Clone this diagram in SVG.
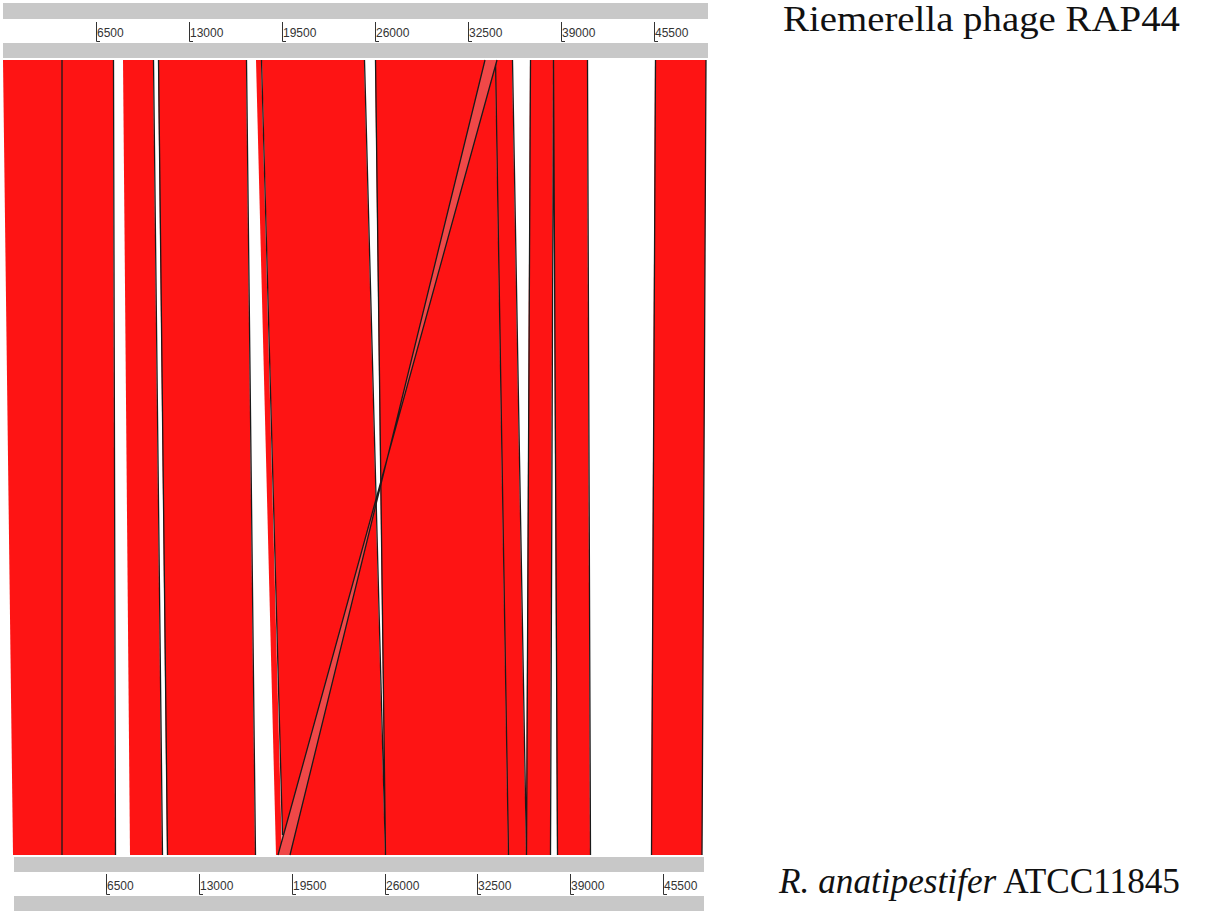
<svg xmlns="http://www.w3.org/2000/svg" width="1210" height="915" viewBox="0 0 1210 915">
<style>
.bar{fill:#c8c8c8}
.blk{fill:#fe1414}
.inv{fill:#f04848}
.edge{stroke:#1a1a1a;stroke-width:1.3;fill:none}
.tick{stroke:#333;stroke-width:1;fill:none}
.tl{font-family:"Liberation Sans",Arial,sans-serif;font-size:12px;fill:#333}
.lab{font-family:"Liberation Serif","Times New Roman",serif;font-size:35px;fill:#111}
</style>
<rect width="1210" height="915" fill="#fff"/>
<g id="top-axis">
<rect class="bar" x="3" y="3" width="705" height="16"/>
<rect class="bar" x="3" y="43" width="705" height="15"/>
<path class="tick" d="M96.5 22V41.5H100M189.5 22V41.5H193M282.5 22V41.5H286M375.5 22V41.5H379M468.5 22V41.5H472M561.5 22V41.5H565M654.5 22V41.5H658"/>
<text class="tl" x="97" y="37">6500</text>
<text class="tl" x="190" y="37">13000</text>
<text class="tl" x="283" y="37">19500</text>
<text class="tl" x="376" y="37">26000</text>
<text class="tl" x="469" y="37">32500</text>
<text class="tl" x="562" y="37">39000</text>
<text class="tl" x="655" y="37">45500</text>
</g>
<g id="bottom-axis">
<rect class="bar" x="14" y="857" width="690" height="15"/>
<rect class="bar" x="14" y="896" width="690" height="15"/>
<path class="tick" d="M106.5 874V894.5H110M199.5 874V894.5H203M292.5 874V894.5H296M385.5 874V894.5H389M477.5 874V894.5H481M570.5 874V894.5H574M663.5 874V894.5H667"/>
<text class="tl" x="107" y="890">6500</text>
<text class="tl" x="200" y="890">13000</text>
<text class="tl" x="293" y="890">19500</text>
<text class="tl" x="386" y="890">26000</text>
<text class="tl" x="478" y="890">32500</text>
<text class="tl" x="571" y="890">39000</text>
<text class="tl" x="664" y="890">45500</text>
</g>
<g id="blocks">
<polygon class="blk" points="3,60 62,60 62,855 13,855"/>
<polygon class="blk" points="62,60 113,60 115,855 62,855"/>
<polygon class="blk" points="123,60 153,60 162,855 130,855"/>
<polygon class="blk" points="158,60 246,60 255,855 167,855"/>
<polygon class="blk" points="256,60 261,60 282,855 276,855"/>
<polygon class="blk" points="262,60 364,60 385,855 283,855"/>
<polygon class="blk" points="375,60 495,60 508,855 385,855"/>
<polygon class="blk" points="495,60 512,60 526,855 508,855"/>
<polygon class="blk" points="530,60 553,60 550,855 526,855"/>
<polygon class="blk" points="553,60 587,60 590,855 557,855"/>
<polygon class="blk" points="655,60 706,60 702,855 651,855"/>
</g>
<g id="connectors">
<path class="edge" d="M62 60V855M113.5 60L115.5 855M153.5 60L162.5 855M158.5 60L167.5 855M246.5 60L255.5 855M261.5 60L282.5 835M364.5 60L385.5 855M375.5 60L385.5 855M495.5 60L508.5 855M512.5 60L526.5 855M530.5 60L526.5 855M553.5 60L550.5 855M557.5 855L553.5 60M587.5 60L590.5 855M655.5 60L651.5 855M706 60L702 855"/>
<polygon class="inv" points="485,60 497,60 278,855 290,855"/>
<path class="edge" d="M485 60L290 855M497 60L278 855"/>
</g>
<g id="labels">
<text class="lab" x="783" y="31" textLength="397" lengthAdjust="spacingAndGlyphs">Riemerella phage RAP44</text>
<text class="lab" x="779" y="893" textLength="401" lengthAdjust="spacingAndGlyphs"><tspan font-style="italic">R. anatipestifer</tspan> ATCC11845</text>
</g>
</svg>
